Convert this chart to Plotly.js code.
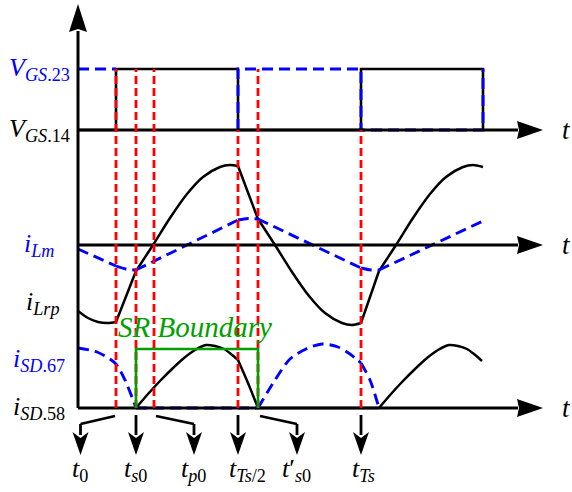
<!DOCTYPE html>
<html><head><meta charset="utf-8">
<script src="https://cdn.plot.ly/plotly-3.0.1.min.js"></script>
<style>html,body{margin:0;padding:0;background:#fff}</style>
</head><body><div id="chart" style="width:572px;height:492px"></div>
<script>
// ---------- DATA (time axis origin at the vertical axis, arbitrary units) ----------
const eventTimes = [38, 58, 76, 160, 180, 283];
const eventLabels = ['<i>t</i><sub>0</sub>', '<i>t</i><sub><i>s</i>0</sub>', '<i>t</i><sub><i>p</i>0</sub>',
  '<i>t</i><sub><i>Ts</i>/2</sub>', '<i>t</i>′<sub><i>s</i>0</sub>', '<i>t</i><sub><i>Ts</i></sub>'];
const kinkTimes = [38, 58, 160, 180, 283, 301];

// gate signals (0 = low, 1 = high)
const gate14T = [0, 38, 38, 160, 160, 283, 283, 405, 405];
const vgs14   = [0, 0, 1, 1, 0, 0, 1, 1, 0];
const gate23T = [0, 38, null, 160, 160, 283, 283, 405, 405];
const vgs23   = [1, 1, null, 0, 1, 1, 0, 0, 1];

// resonant current i_Lrp
const lrpT = [0, 10, 20, 30, 38, 58, 75, 92, 109, 125, 142, 152, 160, 180, 197, 214, 231, 247, 264, 274, 283, 301, 318, 335, 352, 368, 385, 395, 405];
const iLrp = [-66, -73, -77, -78, -77, -26, 0, 27, 51, 68, 78, 80, 79, 26, 0, -27, -51, -68, -78, -80, -78, -26, 0, 27, 51, 68, 78, 80, 78];

// magnetizing current i_Lm
const lmT = [0, 38, 48, 58, 160, 170, 180, 283, 293, 301, 405];
const iLm = [-4, -21, -24, -25, 25, 26.5, 26, -23, -25, -25, 24];

// SR diode currents
const sd67T = [0, 19, 37, 47, 58, 180, 197, 212, 228, 244, 260, 272, 283, 292, 301];
const iSD67 = [60, 56, 45, 28, 0, 0, 28, 49, 59, 64, 61, 54, 45, 28, 0];
const sd58T = [58, 70, 82, 94, 106, 117, 128, 137, 146, 153, 160, 170, 180,
               301, 313, 325, 337, 349, 360, 371, 380, 389, 396, 404];
const iSD58 = [0, 14, 27, 39, 50, 58, 63, 62, 59, 54, 48, 25, 0,
               0, 14, 27, 39, 50, 58, 63, 62, 59, 54, 47];

// SR boundary window
const srT = [58, 58, 180, 180];
const srLevel = [0, 59, 59, 0];

// ---------- LAYOUT CONSTANTS ----------
const gateBase = 278, gateAmp = 61, lmBase = 163, sdBase = 0;
const axisEnd = 440, arrowTip = 465, vAxisTop = 377, vTip = 404;
const BLACK = '#000', BLUE = '#0000ff', RED = '#ff0000', GREEN = '#00a000';
const FONT = 'Liberation Serif';

const traces = [];
function splitAtKinks(ts, vs) {
  const segs = []; let cx = [], cy = [];
  for (let i = 0; i < ts.length; i++) {
    cx.push(ts[i]); cy.push(vs[i]);
    if (i > 0 && i < ts.length - 1 && kinkTimes.includes(ts[i]) && cx.length > 1) {
      segs.push([cx, cy]); cx = [ts[i]]; cy = [vs[i]];
    }
  }
  if (cx.length > 1) segs.push([cx, cy]);
  return segs;
}
function addCurve(ts, vs, base, color, width, dash) {
  splitAtKinks(ts, vs).forEach(([x, y]) => traces.push({
    x: x, y: y.map(v => v + base), type: 'scatter', mode: 'lines', hoverinfo: 'skip',
    line: {color: color, width: width, dash: dash || 'solid', shape: 'spline', smoothing: 0.8}
  }));
}
function addLine(x, y, color, width, dash) {
  traces.push({x: x, y: y, type: 'scatter', mode: 'lines', hoverinfo: 'skip',
    line: {color: color, width: width, dash: dash || 'solid'}});
}

// gate signals
addLine(gate14T, vgs14.map(v => gateBase + v * gateAmp), BLACK, 2.6);
addLine(gate23T, vgs23.map(v => v === null ? null : gateBase + v * gateAmp), BLUE, 2.9, '11px,6px');
// currents
addCurve(lrpT, iLrp, lmBase, BLACK, 2.5);
addCurve(sd58T, iSD58, sdBase, BLACK, 2.5);
addCurve(lmT, iLm, lmBase, BLUE, 2.9, '11px,6px');
addCurve(sd67T, iSD67, sdBase, BLUE, 2.9, '11px,6px');
// axes
addLine([0, 0], [sdBase, vAxisTop], BLACK, 3);
[gateBase, lmBase, sdBase].forEach(b => addLine([0, axisEnd], [b, b], BLACK, 3));
// event markers
const edges23 = gate23T.filter((t, i) => t !== null && i > 0 && vgs23[i] !== vgs23[i - 1] && gate23T[i - 1] === t);
eventTimes.forEach(t => {
  const top = edges23.includes(t) ? gateBase : gateBase + gateAmp;
  addLine([t, t], [sdBase, top], RED, 2.8, '8px,4px');
});
// SR boundary
addLine(srT, srLevel.map(v => v + sdBase), GREEN, 2.6);

// ---------- arrows ----------
const shapes = [];
function head(tx, ty, dir, len, hw, notch) {
  let p;
  if (dir === 'down') p = `M${tx},${ty} L${tx - hw},${ty + len} L${tx},${ty + len - notch} L${tx + hw},${ty + len} Z`;
  else if (dir === 'up') p = `M${tx},${ty} L${tx - hw},${ty - len} L${tx},${ty - len + notch} L${tx + hw},${ty - len} Z`;
  else p = `M${tx},${ty} L${tx - len},${ty + hw} L${tx - len + notch},${ty} L${tx - len},${ty - hw} Z`;
  shapes.push({type: 'path', xref: 'x', yref: 'y', path: p, fillcolor: BLACK, line: {width: 0}});
}
function seg(x0, y0, x1, y1) {
  shapes.push({type: 'line', xref: 'x', yref: 'y', x0: x0, y0: y0, x1: x1, y1: y1, line: {color: BLACK, width: 2.8}});
}
head(0, vTip, 'up', 28, 9, 3);
[gateBase, lmBase, sdBase].forEach(b => head(arrowTip, b, 'right', 26, 9, 2));

const arrowHeadX = [2.5, 58, 116, 160, 219, 283];
const labelX = [2, 57, 115, 169, 218, 285];
const arrowStartY = -8, bendY = -16, headTipY = -47;
eventTimes.forEach((t, i) => {
  const hx = arrowHeadX[i];
  if (Math.abs(hx - t) > 3) {
    const sx = t + (hx < t ? -1 : 2);
    seg(sx, arrowStartY, hx, bendY);
    seg(hx, bendY, hx, headTipY + 20);
  } else {
    seg(hx, arrowStartY + 1, hx, headTipY + 20);
  }
  head(hx, headTipY, 'down', 23, 8, 6);
});

// ---------- text ----------
const annotations = [];
function txt(x, y, text, color, size, xanchor) {
  annotations.push({x: x, y: y, xref: 'x', yref: 'y', text: text, showarrow: false,
    xanchor: xanchor || 'center', yanchor: 'middle', font: {family: FONT, size: size, color: color}});
}
eventLabels.forEach((l, i) => txt(labelX[i], -62, l, BLACK, 26));
const sideLabels = [
  ['<i>V</i><sub><i>GS</i>.23</sub>', gateBase + gateAmp, BLUE, -39],
  ['<i>V</i><sub><i>GS</i>.14</sub>', gateBase, BLACK, -39],
  ['<i>i</i><sub><i>Lm</i></sub>', lmBase, BLUE, -39],
  ['<i>i</i><sub><i>Lrp</i></sub>', 105, BLACK, -35],
  ['<i>i</i><sub><i>SD</i>.67</sub>', 48, BLUE, -39],
  ['<i>i</i><sub><i>SD</i>.58</sub>', sdBase, BLACK, -39]
];
sideLabels.forEach(([l, y, c, x]) => txt(x, y, l, c, 26));
[gateBase, lmBase, sdBase].forEach(b => txt(488, b, '<i>t</i>', BLACK, 27));
txt(117, 81, '<i>SR Boundary</i>', GREEN, 29);

Plotly.newPlot('chart', traces, {
  width: 572, height: 492, margin: {l: 0, r: 0, t: 0, b: 0},
  paper_bgcolor: '#fff', plot_bgcolor: '#fff', showlegend: false,
  xaxis: {range: [-78, 494], visible: false, fixedrange: true},
  yaxis: {range: [-84, 408], visible: false, fixedrange: true},
  shapes: shapes, annotations: annotations
}, {staticPlot: true});
</script></body></html>
